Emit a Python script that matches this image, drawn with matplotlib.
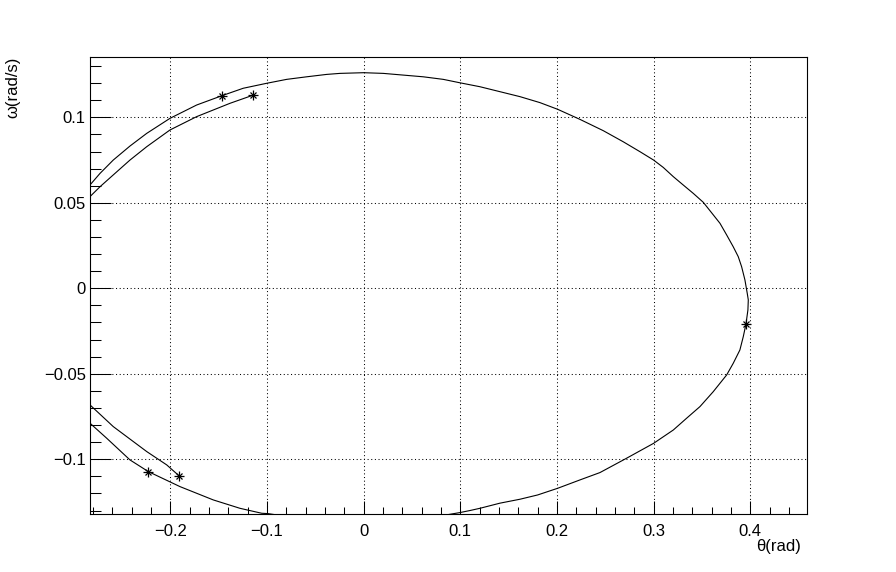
import numpy as np
import matplotlib
matplotlib.use("Agg")
import matplotlib.pyplot as plt
from matplotlib.ticker import MultipleLocator, FuncFormatter

plt.rcParams['font.family'] = ['Liberation Sans', 'DejaVu Sans']

# outer trajectory (theta in rad, omega in rad/s)
outer_theta = [-0.2832, -0.2728, -0.2591, -0.2418, -0.2245, -0.2004, -0.1728, -0.1469,
               -0.1246, -0.1004, -0.0797, -0.0590, -0.0383, -0.0245, 0.0000, 0.0203,
               0.0410, 0.0617, 0.0824, 0.0996, 0.1203, 0.1410, 0.1617, 0.1824, 0.2007,
               0.2238, 0.2479, 0.2686, 0.2859, 0.3000, 0.3100, 0.3204, 0.3307, 0.3411,
               0.3514, 0.3600, 0.3687, 0.3756, 0.3824, 0.3876, 0.3911, 0.3945, 0.3969,
               0.3980, 0.3976, 0.3956, 0.3928, 0.3893, 0.3824, 0.3756, 0.3617, 0.3480,
               0.3342, 0.3204, 0.3000, 0.2721, 0.2445, 0.2238, 0.2007, 0.1800, 0.1617,
               0.1410, 0.1203, 0.1100, 0.0996, 0.0500, 0.0000, -0.0500, -0.0990, -0.1055,
               -0.1280, -0.1556, -0.1901, -0.2229, -0.2418, -0.2659, -0.2832]
outer_omega = [0.0604, 0.0672, 0.0750, 0.0832, 0.0906, 0.0994, 0.1072, 0.1126,
               0.1170, 0.1199, 0.1222, 0.1237, 0.1251, 0.1257, 0.1261, 0.1257,
               0.1247, 0.1237, 0.1222, 0.1202, 0.1179, 0.1150, 0.1121, 0.1086, 0.1047,
               0.0988, 0.0922, 0.0857, 0.0799, 0.0750, 0.0707, 0.0653, 0.0604, 0.0555,
               0.0503, 0.0442, 0.0380, 0.0312, 0.0243, 0.0185, 0.0126, 0.0049, -0.0029,
               -0.0068, -0.0127, -0.0209, -0.0283, -0.0361, -0.0439, -0.0507, -0.0605, -0.0692,
               -0.0760, -0.0829, -0.0907, -0.0994, -0.1078, -0.1121, -0.1170, -0.1209, -0.1234,
               -0.1257, -0.1287, -0.1300, -0.1312, -0.1360, -0.1375, -0.1360, -0.1318, -0.1316,
               -0.1287, -0.1238, -0.1160, -0.1072, -0.1004, -0.0877, -0.0789]

# inner arcs near the left edge
top_theta = [-0.2832, -0.2728, -0.2591, -0.2418, -0.2245, -0.2004, -0.1728, -0.1383, -0.1142]
top_omega = [0.0536, 0.0594, 0.0663, 0.0750, 0.0828, 0.0926, 0.1004, 0.1082, 0.1130]
bot_theta = [-0.2832, -0.2591, -0.2245, -0.2038, -0.1908]
bot_omega = [-0.0682, -0.0809, -0.0955, -0.1033, -0.1098]

# marked points
star_theta = [-0.1469, -0.1142, 0.3956, -0.2229, -0.1908]
star_omega = [0.1126, 0.1130, -0.0209, -0.1072, -0.1098]


def root_fmt(v, pos):
    if abs(v) < 1e-9:
        return '0'
    return ('%g' % round(v, 6)).replace('-', '\u2212')


fig = plt.figure(figsize=(8.96, 5.72), dpi=100)
ax = fig.add_axes([0.1004, 0.1009, 0.7999, 0.7989])

ax.plot(outer_theta, outer_omega, color='black', lw=0.8)
ax.plot(top_theta, top_omega, color='black', lw=0.8)
ax.plot(bot_theta, bot_omega, color='black', lw=0.8)
ax.plot(star_theta, star_omega, ls='none', marker='+', ms=7, mew=0.9, color='black')
ax.plot(star_theta, star_omega, ls='none', marker='x', ms=5, mew=0.9, color='black')

ax.set_xlim(-0.2832, 0.4584)
ax.set_ylim(-0.1322, 0.1351)

ax.xaxis.set_major_locator(MultipleLocator(0.1))
ax.xaxis.set_minor_locator(MultipleLocator(0.02))
ax.yaxis.set_major_locator(MultipleLocator(0.05))
ax.yaxis.set_minor_locator(MultipleLocator(0.01))
ax.xaxis.set_major_formatter(FuncFormatter(root_fmt))
ax.yaxis.set_major_formatter(FuncFormatter(root_fmt))

ax.grid(True, which='major', color='black', lw=0.75, ls=(0, (1, 2.5)))
ax.set_axisbelow(True)

ax.tick_params(axis='x', which='major', direction='in', length=9.5, width=0.75, labelsize=12, pad=7)
ax.tick_params(axis='x', which='minor', direction='in', length=5, width=0.75)
ax.tick_params(axis='y', which='major', direction='in', length=15, width=0.75, labelsize=12, pad=3)
ax.tick_params(axis='y', which='minor', direction='in', length=8, width=0.75)
for s in ax.spines.values():
    s.set_linewidth(0.8)

fig.text(13 / 896, 1 - 57 / 572, 'ω(rad/s)', rotation=90, ha='center', va='top', fontsize=12)
fig.text(801 / 896, 1 - 547 / 572, 'θ(rad)', ha='right', va='center', fontsize=12)

fig.savefig('out.png', dpi=100)
